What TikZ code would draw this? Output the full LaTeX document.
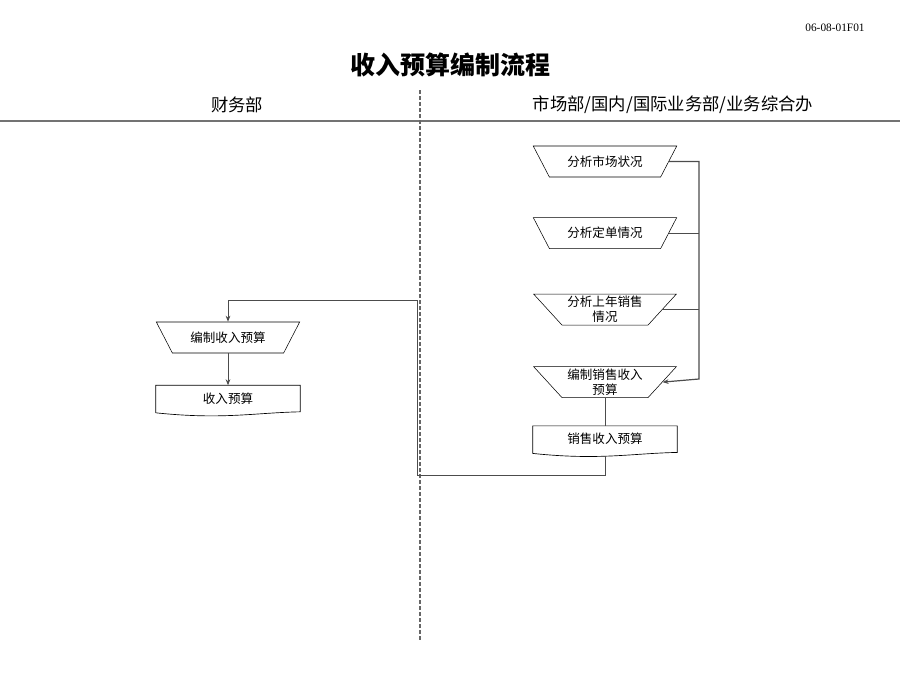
\documentclass[tikz,border=0pt]{standalone}
\usepackage{fontspec}
\setmainfont{Liberation Serif}
\newfontfamily\cjk{Noto Sans CJK SC}
\usetikzlibrary{arrows.meta,shapes.geometric,positioning}
\tikzset{
    manual/.style={draw, trapezium, trapezium left angle=133, trapezium right angle=133,
        trapezium stretches=true, minimum width=108pt, minimum height=23.25pt,
        inner sep=0pt, align=center, font=\cjk\fontsize{9.4}{11.25}\selectfont},
    docbox/.style={minimum width=108pt, minimum height=19.5pt, inner sep=0pt,
        font=\cjk\fontsize{9.4}{11.25}\selectfont},
    flow/.style={-{Stealth[length=4.5pt, width=3.5pt]}, draw=black!70, line width=0.6pt},
    link/.style={draw=black!70, line width=0.6pt},
    lane/.style={font=\cjk\fontsize{13}{15}\selectfont}
}
% outline of a document box with its wavy lower edge
\newcommand{\docedge}[1]{%
    \draw[line width=0.5pt] ([yshift=-0.75pt]#1.south west) -- (#1.north west) -- (#1.north east) -- (#1.south east)
        .. controls ([xshift=-35pt, yshift=-0.75pt]#1.south east) and ([xshift=50pt, yshift=-6pt]#1.south west)
        .. ([yshift=-0.75pt]#1.south west);}

\begin{document}
\begin{tikzpicture}[x=0.75pt, y=-0.75pt]
    \useasboundingbox (0,0) rectangle (900,675);
    % heading
    \node (code) at (835,28) {\fontsize{8.5}{10}\selectfont 06-08-01F01};
    \node[font=\cjk\bfseries\fontsize{18.75}{22}\selectfont] (title) at (450,65) {收入预算编制流程};
    \node[lane] (finance) at (237,105) {财务部};
    \node[lane] (market) at (673,105) {市场部/国内/国际业务部/业务综合办};
    \draw[black!55, line width=1.5pt] (0,121) -- (900,121);
    \draw[black!60, line width=0.9pt, dash pattern=on 3pt off 1.5pt] (420,90) -- (420,640);

    % market lane
    \node[manual] (S1) at (605,161.5) {分析市场状况};
    \node[manual, below=30pt of S1] (S2) {分析定单情况};
    \node[manual, below=33.75pt of S2] (S3) {分析上年销售\\情况};
    \node[manual, below=30.75pt of S3] (S4) {编制销售收入\\预算};
    \node[docbox, below=21pt of S4] (D1) {销售收入预算};
    \docedge{D1}

    % finance lane
    \node[manual] (L1) at (228,337.5) {编制收入预算};
    \node[docbox, below=24pt of L1] (L2) {收入预算};
    \docedge{L2}

    % connectors
    \coordinate (bus) at (699,379);
    \draw[flow, line width=0.9pt] (S1.east) -| (bus) -- (S4.east);
    \draw[link] (S2.east) -- (S2.east -| bus);
    \draw[link] (S3.east) -- (S3.east -| bus);
    \draw[link] (S4.south) -- (D1.north);
    \coordinate (turnA) at (417,475);
    \coordinate (turnB) at (417,300);
    \draw[flow] ([yshift=-3pt]D1.south) |- (turnA) -- (turnB) -| (L1.north);
    \draw[flow] (L1.south) -- (L2.north);
\end{tikzpicture}
\end{document}
